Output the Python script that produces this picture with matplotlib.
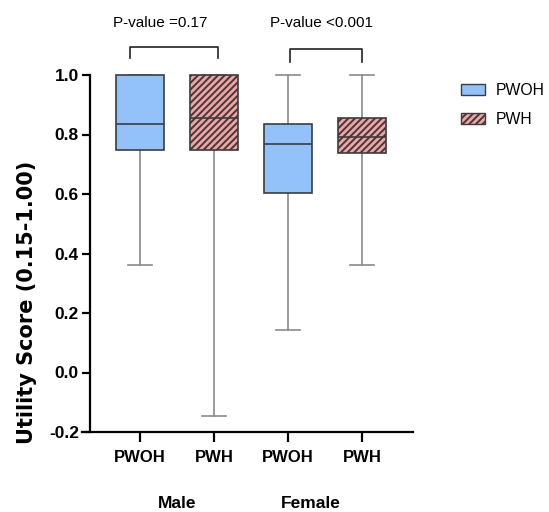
import matplotlib
matplotlib.use("Agg")
import matplotlib.pyplot as plt
from matplotlib.patches import Patch

plt.rcParams['font.family'] = ['Liberation Sans', 'DejaVu Sans']
plt.rcParams['hatch.linewidth'] = 1.4
plt.rcParams['hatch.color'] = '#111111'

# box summary values
groups = ['Male', 'Male', 'Female', 'Female']
labels = ['PWOH', 'PWH', 'PWOH', 'PWH']
q1 = [0.748, 0.748, 0.602, 0.737]
med = [0.835, 0.857, 0.768, 0.791]
q3 = [1.0, 1.0, 0.835, 0.854]
whis_lo = [0.361, -0.145, 0.143, 0.361]
whis_hi = [1.0, 1.0, 1.0, 1.0]
pvals = ['P-value =0.17', 'P-value <0.001']

blue = '#92C2F9'
red = '#F4A2A2'
edge = '#3c3c3c'
grey = '#8a8a8a'
hatch = '/////'

fig = plt.figure(figsize=(5.49, 5.12), dpi=100)
ax = fig.add_axes([82 / 549, 80 / 512, 331 / 549, 357 / 512])

stats = []
for i in range(4):
    stats.append({'med': med[i], 'q1': q1[i], 'q3': q3[i],
                  'whislo': whis_lo[i], 'whishi': whis_hi[i], 'label': labels[i]})

pos = [1, 2, 3, 4]
bp = ax.bxp(stats, positions=pos, widths=0.66, patch_artist=True, showfliers=False,
            boxprops=dict(edgecolor=edge, linewidth=1.2, zorder=3),
            medianprops=dict(color=edge, linewidth=1.2, zorder=4),
            whiskerprops=dict(color=grey, linewidth=1.2, zorder=2),
            capprops=dict(color=grey, linewidth=1.2, zorder=1),
            manage_ticks=False)
for i, box in enumerate(bp['boxes']):
    box.set_clip_on(False)
    if labels[i] == 'PWOH':
        box.set_facecolor(blue)
    else:
        box.set_facecolor(red)
        box.set_hatch(hatch)
for ln in bp['medians'] + bp['caps'] + bp['whiskers']:
    ln.set_clip_on(False)

ax.set_xlim(0.216, 4.689)
ax.set_ylim(-0.2, 1.0)

for s in ['top', 'right']:
    ax.spines[s].set_visible(False)
ax.spines['left'].set_position(('data', 0.324))
ax.spines['left'].set_linewidth(1.6)
ax.spines['bottom'].set_linewidth(1.6)

ax.set_yticks([-0.2, 0.0, 0.2, 0.4, 0.6, 0.8, 1.0])
ax.set_yticklabels([f'{v:.1f}' for v in ax.get_yticks()], fontsize=12.5, fontweight='bold')
ax.set_xticks(pos)
ax.set_xticklabels(labels, fontsize=12, fontweight='bold')
ax.tick_params(axis='y', length=6, width=1.6, pad=2)
ax.tick_params(axis='x', length=7, width=1.6, pad=6)

# group names under the ticks
ax.text(1.5, -0.2, groups[0], transform=ax.get_xaxis_transform(), ha='center', va='center',
        fontsize=12.5, fontweight='bold', clip_on=False)
ax.text(3.31, -0.2, groups[2], transform=ax.get_xaxis_transform(), ha='center', va='center',
        fontsize=12.5, fontweight='bold', clip_on=False)

# significance brackets
brackets = [(0.87, 2.05, 1.094, 1.057), (3.03, 4.0, 1.087, 1.045)]
text_x = [1.27, 3.45]
for (x0, x1, ytop, ybot), tx, txt in zip(brackets, text_x, pvals):
    ax.plot([x0, x0, x1, x1], [ybot, ytop, ytop, ybot], color='#222222', lw=1.2, clip_on=False)
    ax.text(tx, 1.175, txt, ha='center', va='center', fontsize=11, clip_on=False)

fig.text(27 / 549, 1 - 302 / 512, 'Utility Score (0.15-1.00)', rotation=90, ha='center',
         va='center', fontsize=15, fontweight='bold', family='DejaVu Sans')

handles = [Patch(facecolor=blue, edgecolor=edge, linewidth=1),
           Patch(facecolor=red, edgecolor=edge, linewidth=1, hatch=hatch)]
fig.legend(handles, ['PWOH', 'PWH'], loc='upper left', bbox_to_anchor=(461 / 549, 1 - 83 / 512),
           frameon=False, fontsize=11.3, borderpad=0, borderaxespad=0, handlelength=1.5,
           handleheight=0.65, handletextpad=0.7, labelspacing=0.9)

fig.savefig('out.png', dpi=100)
